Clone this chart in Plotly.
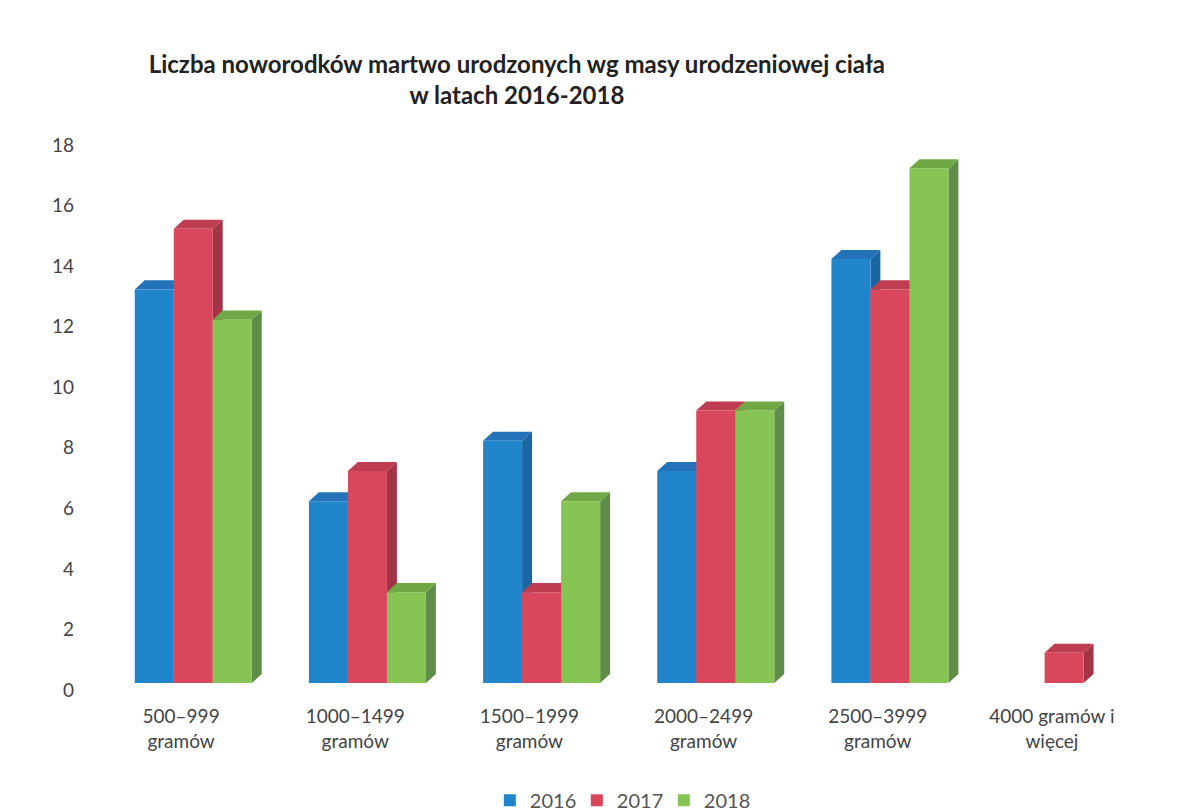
import plotly.graph_objects as go

categories = ["500–999<br>gramów", "1000–1499<br>gramów", "1500–1999<br>gramów",
              "2000–2499<br>gramów", "2500–3999<br>gramów", "4000 gramów i<br>więcej"]
years = ["2016", "2017", "2018"]
v2016 = [13, 6, 8, 7, 14, 0]
v2017 = [15, 7, 3, 9, 13, 1]
v2018 = [12, 3, 6, 9, 17, 0]
y_ticks = [0, 2, 4, 6, 8, 10, 12, 14, 16, 18]

series = [v2016, v2017, v2018]
front = ["#2185CC", "#D9475C", "#86C453"]
side = ["#1A66A3", "#A23446", "#5F8D48"]
top = ["#2473B8", "#BF3D51", "#70A846"]

bw = 0.224          # bar width (category units)
shift = 0.07        # 3D front shift to the right
dx, dy = 0.057, 0.3 # depth offset

xs = list(range(len(categories)))
fig = go.Figure()
shapes = []
for i, (yr, vals) in enumerate(zip(years, series)):
    off = shift + (i - 1.5) * bw
    fig.add_trace(go.Bar(
        x=xs, y=vals, name=yr,
        offset=off, width=bw,
        marker=dict(color=front[i], line=dict(width=0)),
    ))
    for j, v in zip(xs, vals):
        if v <= 0:
            continue
        x0 = j + off
        x1 = x0 + bw
        shapes.append(dict(
            type="path", xref="x", yref="y", layer="below",
            path=f"M {x1},0 L {x1+dx},{dy} L {x1+dx},{v+dy} L {x1},{v} Z",
            fillcolor=side[i], line=dict(width=0)))
        shapes.append(dict(
            type="path", xref="x", yref="y", layer="below",
            path=f"M {x0},{v} L {x0+dx},{v+dy} L {x1+dx},{v+dy} L {x1},{v} Z",
            fillcolor=top[i], line=dict(width=0)))

fig.update_layout(
    width=1203, height=810,
    paper_bgcolor="white", plot_bgcolor="white",
    margin=dict(l=86, r=72, t=130, b=135, autoexpand=False),
    barmode="overlay",
    shapes=shapes,
    font=dict(family="Lato", color="#444444"),
    title=dict(
        text="<b>Liczba noworodków martwo urodzonych wg masy urodzeniowej ciała<br>w latach 2016-2018</b>",
        x=0.423, xanchor="center", y=0.92, yanchor="middle",
        font=dict(family="Lato", size=24, color="#222222"),
    ),
    xaxis=dict(
        range=[-0.5, 5.5], tickvals=xs, ticktext=categories,
        showgrid=False, zeroline=False, showline=False, ticks="",
        tickfont=dict(size=19, color="#444444"),
        ticklabelstandoff=20, automargin=False,
    ),
    yaxis=dict(
        range=[0, 18], tickvals=y_ticks, showgrid=False, zeroline=False,
        showline=False, ticks="", tickfont=dict(size=19, color="#444444"),
        ticklabelshift=7, ticklabelstandoff=19, automargin=False,
    ),
    legend=dict(
        orientation="h", xref="container", x=0.509, xanchor="center",
        yref="container", y=0.022, yanchor="middle",
        font=dict(size=20, color="#555555"), traceorder="normal",
        itemwidth=30, entrywidth=42, entrywidthmode="pixels",
    ),
)

fig.write_html("out.html")
